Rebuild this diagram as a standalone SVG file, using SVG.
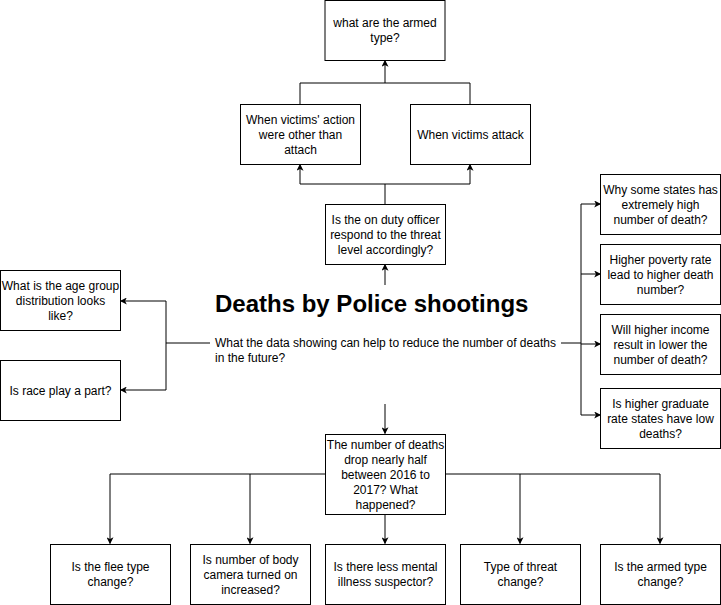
<svg xmlns="http://www.w3.org/2000/svg" width="721" height="605" viewBox="0 0 721 605">
<style>
.box{fill:#fff;stroke:#000;stroke-width:1}
.t{font-family:"Liberation Sans",Arial,sans-serif;font-size:12px;fill:#000;text-anchor:middle;dominant-baseline:central}
.tl{font-family:"Liberation Sans",Arial,sans-serif;font-size:12px;fill:#000;dominant-baseline:central}
.title{font-family:"Liberation Sans",Arial,sans-serif;font-size:24px;font-weight:bold;fill:#000}
.c{fill:none;stroke:#000;stroke-width:1}
.a{marker-end:url(#arr)}
</style>
<defs>
<marker id="arr" viewBox="0 0 10 10" refX="9" refY="5" markerWidth="7" markerHeight="7" markerUnits="userSpaceOnUse" orient="auto">
<path d="M0,0 L10,5 L0,10 L2.5,5 Z" fill="#000"/>
</marker>
</defs>
<rect width="721" height="605" fill="#fff"/>
<g id="connectors">
<path class="c" d="M385,204 V184 H300 M385,184 H470"/>
<path class="c a" d="M300,184 V164.5"/>
<path class="c a" d="M470,184 V164.5"/>
<path class="c" d="M300,104 V83 H470 V104"/>
<path class="c a" d="M385,83 V60.5"/>
<path class="c a" d="M385,285 V264.5"/>
<path class="c a" d="M385,404 V433.5"/>
<path class="c" d="M210,343 H166 V301 M166,343 V390"/>
<path class="c a" d="M166,301 H120.5"/>
<path class="c a" d="M166,390 H120.5"/>
<path class="c" d="M561,343 H581 M581,204 V415"/>
<path class="c a" d="M581,204 H600.5"/>
<path class="c a" d="M581,274 H600.5"/>
<path class="c a" d="M581,344 H600.5"/>
<path class="c a" d="M581,415 H600.5"/>
<path class="c" d="M325,474 H110 M445,474 H660"/>
<path class="c a" d="M110,474 V543.5"/>
<path class="c a" d="M250,474 V543.5"/>
<path class="c a" d="M385,514 V543.5"/>
<path class="c a" d="M520,474 V543.5"/>
<path class="c a" d="M660,474 V543.5"/>
</g>
<g id="top">
<rect class="box" x="325" y="0.5" width="120" height="60"/>
<text class="t" x="385" y="22.5">what are the armed</text>
<text class="t" x="385" y="37.5">type?</text>
</g>
<g id="other-action">
<rect class="box" x="240.5" y="104.5" width="120" height="60"/>
<text class="t" x="300.5" y="119.5">When victims' action</text>
<text class="t" x="300.5" y="134.5">were other than</text>
<text class="t" x="300.5" y="149.5">attach</text>
</g>
<g id="attack">
<rect class="box" x="410.5" y="104.5" width="120" height="60"/>
<text class="t" x="470.5" y="134.5">When victims attack</text>
</g>
<g id="officer">
<rect class="box" x="325.5" y="204.5" width="120" height="60"/>
<text class="t" x="385.5" y="219.5">Is the on duty officer</text>
<text class="t" x="385.5" y="234.5">respond to the threat</text>
<text class="t" x="385.5" y="249.5">level accordingly?</text>
</g>
<g id="center">
<text class="title" x="215" y="312">Deaths by Police shootings</text>
<text class="tl" x="215" y="342.5">What the data showing can help to reduce the number of deaths</text>
<text class="tl" x="215" y="357.5">in the future?</text>
</g>
<g id="age">
<rect class="box" x="0.5" y="270.5" width="120" height="60"/>
<text class="t" x="60.5" y="285.5">What is the age group</text>
<text class="t" x="60.5" y="300.5">distribution looks</text>
<text class="t" x="60.5" y="315.5">like?</text>
</g>
<g id="race">
<rect class="box" x="0.5" y="360.5" width="120" height="60"/>
<text class="t" x="60.5" y="390.5">Is race play a part?</text>
</g>
<g id="states">
<rect class="box" x="600.5" y="174.5" width="120" height="60"/>
<text class="t" x="660.5" y="189.5">Why some states has</text>
<text class="t" x="660.5" y="204.5">extremely high</text>
<text class="t" x="660.5" y="219.5">number of death?</text>
</g>
<g id="poverty">
<rect class="box" x="600.5" y="244.5" width="120" height="60"/>
<text class="t" x="660.5" y="259.5">Higher poverty rate</text>
<text class="t" x="660.5" y="274.5">lead to higher death</text>
<text class="t" x="660.5" y="289.5">number?</text>
</g>
<g id="income">
<rect class="box" x="600.5" y="314.5" width="120" height="60"/>
<text class="t" x="660.5" y="329.5">Will higher income</text>
<text class="t" x="660.5" y="344.5">result in lower the</text>
<text class="t" x="660.5" y="359.5">number of death?</text>
</g>
<g id="graduate">
<rect class="box" x="600.5" y="388.5" width="120" height="60"/>
<text class="t" x="660.5" y="403.5">Is higher graduate</text>
<text class="t" x="660.5" y="418.5">rate states have low</text>
<text class="t" x="660.5" y="433.5">deaths?</text>
</g>
<g id="drop">
<rect class="box" x="325.5" y="434.5" width="120" height="80"/>
<text class="t" x="385.5" y="444.5">The number of deaths</text>
<text class="t" x="385.5" y="459.5">drop nearly half</text>
<text class="t" x="385.5" y="474.5">between 2016 to</text>
<text class="t" x="385.5" y="489.5">2017? What</text>
<text class="t" x="385.5" y="504.5">happened?</text>
</g>
<g id="flee">
<rect class="box" x="50.5" y="544.5" width="120" height="60"/>
<text class="t" x="110.5" y="567">Is the flee type</text>
<text class="t" x="110.5" y="582">change?</text>
</g>
<g id="camera">
<rect class="box" x="190.5" y="544.5" width="120" height="60"/>
<text class="t" x="250.5" y="559.5">Is number of body</text>
<text class="t" x="250.5" y="574.5">camera turned on</text>
<text class="t" x="250.5" y="589.5">increased?</text>
</g>
<g id="mental">
<rect class="box" x="325.5" y="544.5" width="120" height="60"/>
<text class="t" x="385.5" y="567">Is there less mental</text>
<text class="t" x="385.5" y="582">illness suspector?</text>
</g>
<g id="threat">
<rect class="box" x="460.5" y="544.5" width="120" height="60"/>
<text class="t" x="520.5" y="567">Type of threat</text>
<text class="t" x="520.5" y="582">change?</text>
</g>
<g id="armed">
<rect class="box" x="600.5" y="544.5" width="120" height="60"/>
<text class="t" x="660.5" y="567">Is the armed type</text>
<text class="t" x="660.5" y="582">change?</text>
</g>
</svg>
